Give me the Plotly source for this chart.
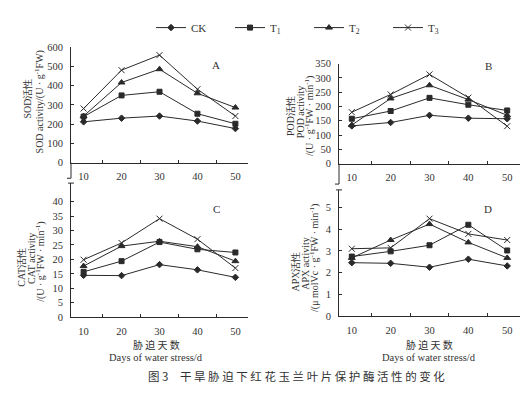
import plotly.graph_objects as go

W, H = 529, 393
days = ["10", "20", "30", "40", "50"]
series = ["CK", "T<sub>1</sub>", "T<sub>2</sub>", "T<sub>3</sub>"]
symbols = ["diamond", "square", "triangle-up", "x-thin"]

sod = {
    "CK": [212, 231, 242, 216, 177],
    "T1": [239, 349, 368, 254, 202],
    "T2": [242, 416, 485, 360, 286],
    "T3": [281, 480, 558, 381, 242],
}
pod = {
    "CK": [132, 144, 169, 159, 157],
    "T1": [157, 184, 230, 206, 186],
    "T2": [135, 228, 274, 224, 169],
    "T3": [180, 242, 312, 231, 131],
}
cat = {
    "CK": [14.5, 14.4, 18.2, 16.4, 13.8],
    "T1": [15.7, 19.4, 26.0, 23.5, 22.4],
    "T2": [17.7, 24.6, 26.3, 24.4, 19.4],
    "T3": [19.9, 25.7, 34.1, 27.0, 17.0],
}
apx = {
    "CK": [2.46, 2.43, 2.25, 2.62, 2.31],
    "T1": [2.74, 2.98, 3.26, 4.20, 3.02],
    "T2": [2.68, 3.50, 4.23, 3.39, 2.68],
    "T3": [3.10, 3.14, 4.48, 3.78, 3.50],
}
keys = ["CK", "T1", "T2", "T3"]

LINE = "#2a2a2a"
TXT = "#333333"
SERIF = "Liberation Serif, Times New Roman, serif"
CJK = "Noto Sans CJK SC"
TF = 10.5
YT = 10

def px(x):
    return x / W

def py(y):
    return 1 - y / H

boxes = {
    "A": (63, 240, 35, 154),
    "B": (331, 512, 52, 155),
    "C": (63, 240, 175, 313),
    "D": (331, 512, 182, 312),
}
ranges = {"A": ([0, 600], 100), "B": ([0, 350], 50), "C": ([0, 46.4], 5), "D": ([0, 5.8], 1)}
tickmax = {"A": 600, "B": 350, "C": 40, "D": 5}
datasets = {"A": sod, "B": pod, "C": cat, "D": apx}

fig = go.Figure()
layout = dict(width=W, height=H, autosize=False, margin=dict(l=0, r=0, t=0, b=0),
              paper_bgcolor="white", plot_bgcolor="white",
              font=dict(family=SERIF, size=11, color=TXT))

for i, p in enumerate(["A", "B", "C", "D"]):
    n = "" if i == 0 else str(i + 1)
    x0, x1, yt, yb = boxes[p]
    rng, dt = ranges[p]
    layout["xaxis" + n] = dict(domain=[px(x0), px(x1)], anchor="y" + n, type="category",
                               showline=True, linecolor=LINE, linewidth=1, ticks="inside",
                               tickson="boundaries", ticklen=3, tickcolor=LINE, showgrid=False,
                               zeroline=False, ticklabelstandoff=4,
                               tickfont=dict(family=SERIF, size=TF, color=TXT))
    layout["yaxis" + n] = dict(domain=[py(yb), py(yt)], anchor="x" + n, range=rng,
                               tickmode="array",
                               tickvals=[k * dt for k in range(int(round(tickmax[p] / dt)) + 1)],
                               showline=True, linecolor=LINE, linewidth=1, ticks="inside",
                               ticklen=3, tickcolor=LINE, showgrid=False, zeroline=False,
                               ticklabelstandoff=5,
                               tickfont=dict(family=SERIF, size=TF, color=TXT))
    data = datasets[p]
    for k, name, sym in zip(keys, series, symbols):
        fig.add_trace(go.Scatter(
            x=days, y=data[k], name=name, mode="lines+markers",
            xaxis="x" + n, yaxis="y" + n, showlegend=(i == 0),
            line=dict(color=LINE, width=1),
            marker=dict(symbol=sym, size=5 if sym in ("diamond", "square") else 6,
                        color=LINE, line=dict(color=LINE, width=1)),
        ))

layout["legend"] = dict(orientation="h", x=px(143), y=py(15), xanchor="left", yanchor="middle",
                        font=dict(family=SERIF, size=11, color=TXT), bgcolor="rgba(0,0,0,0)",
                        entrywidth=34, entrywidthmode="pixels", tracegroupgap=0,
                        itemwidth=30)

ann = []
def text(x, y, s, size=YT, angle=0, family=SERIF):
    ann.append(dict(x=px(x), y=py(y), xref="paper", yref="paper", text=s, showarrow=False,
                    textangle=angle, font=dict(family=family, size=size, color=TXT),
                    xanchor="center", yanchor="middle"))

for p, (x, y) in {"A": (208, 54), "B": (480, 55), "C": (208, 202), "D": (480, 202)}.items():
    text(x, y, p, size=11)

# y titles
text(20, 88, "SOD活性", angle=-90)
text(31, 92, "SOD activity/(U · g<sup>-1</sup>FW)", angle=-90)
text(282, 106, "POD活性", angle=-90)
text(292, 102, "POD activity", angle=-90)
text(301, 106, "/(U · g<sup>-1</sup>FW · min<sup>-1</sup>)", angle=-90)
text(14, 262, "CAT活性", angle=-90)
text(24, 253, "CAT activity", angle=-90)
text(33, 256, "/(U · g<sup>-1</sup>FW · min<sup>-1</sup>)", angle=-90)
text(288, 266, "APX活性", angle=-90)
text(298, 258, "APX activity", angle=-90)
text(307, 252, "/(μ molVc · g<sup>-1</sup>FW · min<sup>-1</sup>)", angle=-90)

# x titles
for cx in (148, 421):
    text(cx, 341, "胁 迫 天 数", size=10, family=CJK)
    text(cx, 354, "Days of water stress/d", size=10.5)

caption = "图 3　" + " ".join("干旱胁迫下红花玉兰叶片保护酶活性的变化")
text(288, 373, caption, size=11.5, family=CJK)

shapes = []
def seg(x0, y0, x1, y1):
    shapes.append(dict(type="line", xref="paper", yref="paper", x0=px(x0), y0=py(y0),
                       x1=px(x1), y1=py(y1), line=dict(color=LINE, width=1)))

# broken-axis connectors
seg(63, 154, 63, 170)
seg(59, 170, 63, 170)
seg(60, 175, 66, 175)
seg(331, 155, 331, 176)
seg(327, 176, 331, 176)
seg(328, 182, 334, 182)

layout["annotations"] = ann
layout["shapes"] = shapes
fig.update_layout(**layout)
fig.write_html("out.html")
